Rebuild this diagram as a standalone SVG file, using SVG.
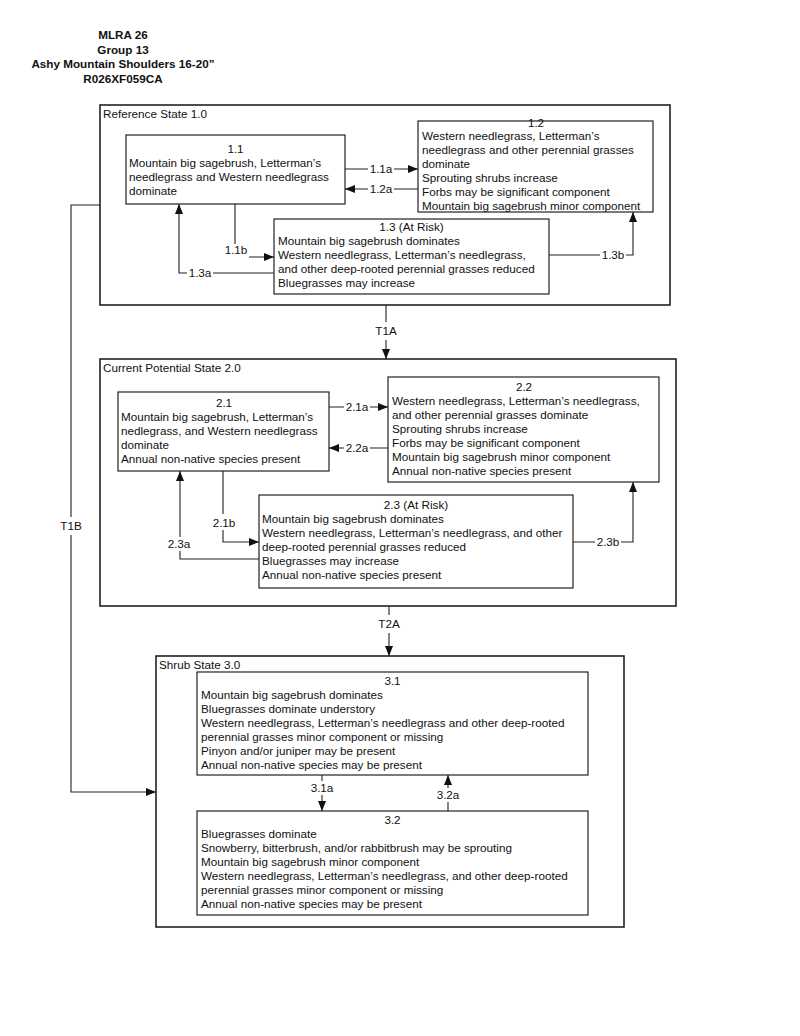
<svg xmlns="http://www.w3.org/2000/svg" width="800" height="1036" viewBox="0 0 800 1036">
<style>
text{font-family:"Liberation Sans",Arial,sans-serif;font-size:11.7px;fill:#111}
.hd{font-weight:bold;text-anchor:middle}
.c{text-anchor:middle}
.state{fill:none;stroke:#222;stroke-width:1.6}
.box{fill:#fff;stroke:#222;stroke-width:1.2}
.con{fill:none;stroke:#222;stroke-width:1.1}
.bg{fill:#fff;stroke:none}
.lbl{text-anchor:middle}
</style>
<defs>
<marker id="ah" markerUnits="userSpaceOnUse" markerWidth="10" markerHeight="8" refX="10" refY="4" orient="auto">
<path d="M0,0 L10,4 L0,8 z" fill="#111"/>
</marker>
</defs>
<rect width="800" height="1036" fill="#fff"/>
<g id="header">
<text class="hd" x="123" y="39">MLRA 26</text>
<text class="hd" x="123" y="54">Group 13</text>
<text class="hd" x="123" y="68">Ashy Mountain Shoulders 16-20”</text>
<text class="hd" x="123" y="83">R026XF059CA</text>
</g>
<g id="state1">
<rect class="state" x="100" y="105" width="570" height="200"/>
<text x="103" y="118">Reference State 1.0</text>
</g>
<g id="state2">
<rect class="state" x="100" y="359" width="576" height="247"/>
<text x="103" y="372">Current Potential State 2.0</text>
</g>
<g id="state3">
<rect class="state" x="156" y="656" width="468" height="271"/>
<text x="159" y="669">Shrub State 3.0</text>
</g>
<g id="connectors">
<path class="con" d="M345,169 H418" marker-end="url(#ah)"/>
<path class="con" d="M418,189 H345" marker-end="url(#ah)"/>
<path class="con" d="M235,204 V257 H274" marker-end="url(#ah)"/>
<path class="con" d="M274,273 H179 V204" marker-end="url(#ah)"/>
<path class="con" d="M549,255 H633 V212" marker-end="url(#ah)"/>
<path class="con" d="M386,305 V359" marker-end="url(#ah)"/>
<path class="con" d="M329,407 H388" marker-end="url(#ah)"/>
<path class="con" d="M388,448 H329" marker-end="url(#ah)"/>
<path class="con" d="M223,471 V542 H259" marker-end="url(#ah)"/>
<path class="con" d="M259,559 H180 V471" marker-end="url(#ah)"/>
<path class="con" d="M573,542 H633 V482" marker-end="url(#ah)"/>
<path class="con" d="M389,606 V656" marker-end="url(#ah)"/>
<path class="con" d="M100,205 H71 V792 H156" marker-end="url(#ah)"/>
<path class="con" d="M322,775 V811" marker-end="url(#ah)"/>
<path class="con" d="M448,811 V775" marker-end="url(#ah)"/>
<rect class="bg" x="368" y="163" width="26" height="12"/>
<rect class="bg" x="368" y="183" width="26" height="12"/>
<rect class="bg" x="223" y="244" width="26" height="14"/>
<rect class="bg" x="187" y="267" width="26" height="12"/>
<rect class="bg" x="600" y="249" width="26" height="12"/>
<rect class="bg" x="374" y="322" width="24" height="18"/>
<rect class="bg" x="344" y="401" width="26" height="12"/>
<rect class="bg" x="344" y="442" width="26" height="12"/>
<rect class="bg" x="211" y="514" width="26" height="16"/>
<rect class="bg" x="166" y="537" width="26" height="14"/>
<rect class="bg" x="595" y="536" width="26" height="12"/>
<rect class="bg" x="377" y="615" width="24" height="18"/>
<rect class="bg" x="59" y="517" width="24" height="18"/>
<rect class="bg" x="309" y="781" width="26" height="14"/>
<rect class="bg" x="435" y="788" width="26" height="14"/>
<text class="lbl" x="381" y="173">1.1a</text>
<text class="lbl" x="381" y="193">1.2a</text>
<text class="lbl" x="236" y="254">1.1b</text>
<text class="lbl" x="200" y="277">1.3a</text>
<text class="lbl" x="613" y="259">1.3b</text>
<text class="lbl" x="386" y="335">T1A</text>
<text class="lbl" x="357" y="411">2.1a</text>
<text class="lbl" x="357" y="452">2.2a</text>
<text class="lbl" x="224" y="527">2.1b</text>
<text class="lbl" x="179" y="548">2.3a</text>
<text class="lbl" x="608" y="546">2.3b</text>
<text class="lbl" x="389" y="628">T2A</text>
<text class="lbl" x="71" y="530">T1B</text>
<text class="lbl" x="322" y="792">3.1a</text>
<text class="lbl" x="448" y="799">3.2a</text>
</g>
<g id="n11">
<rect class="box" x="126" y="135" width="219" height="69"/>
<text class="c" x="235.5" y="153">1.1</text>
<text x="129" y="167">Mountain big sagebrush, Letterman’s</text>
<text x="129" y="181">needlegrass and Western needlegrass</text>
<text x="129" y="195">dominate</text>
</g>
<g id="n12">
<rect class="box" x="418" y="121" width="235" height="91"/>
<text class="c" x="536" y="127">1.2</text>
<text x="422" y="140">Western needlegrass, Letterman’s</text>
<text x="422" y="154">needlegrass and other perennial grasses</text>
<text x="422" y="168">dominate</text>
<text x="422" y="182">Sprouting shrubs increase</text>
<text x="422" y="196">Forbs may be significant component</text>
<text x="422" y="210">Mountain big sagebrush minor component</text>
</g>
<g id="n13">
<rect class="box" x="274" y="219" width="275" height="75"/>
<text class="c" x="411.5" y="231">1.3 (At Risk)</text>
<text x="278" y="245">Mountain big sagebrush dominates</text>
<text x="278" y="259">Western needlegrass, Letterman’s needlegrass,</text>
<text x="278" y="273">and other deep-rooted perennial grasses reduced</text>
<text x="278" y="287">Bluegrasses may increase</text>
</g>
<g id="n21">
<rect class="box" x="118" y="392" width="211" height="79"/>
<text class="c" x="224" y="407">2.1</text>
<text x="121" y="421">Mountain big sagebrush, Letterman’s</text>
<text x="121" y="435">nedlegrass, and Western needlegrass</text>
<text x="121" y="449">dominate</text>
<text x="121" y="463">Annual non-native species present</text>
</g>
<g id="n22">
<rect class="box" x="388" y="377" width="271" height="105"/>
<text class="c" x="524" y="391">2.2</text>
<text x="392" y="405">Western needlegrass, Letterman’s needlegrass,</text>
<text x="392" y="419">and other perennial grasses dominate</text>
<text x="392" y="433">Sprouting shrubs increase</text>
<text x="392" y="447">Forbs may be significant component</text>
<text x="392" y="461">Mountain big sagebrush minor component</text>
<text x="392" y="475">Annual non-native species present</text>
</g>
<g id="n23">
<rect class="box" x="259" y="495" width="314" height="93"/>
<text class="c" x="416" y="509">2.3 (At Risk)</text>
<text x="262" y="523">Mountain big sagebrush dominates</text>
<text x="262" y="537">Western needlegrass, Letterman’s needlegrass, and other</text>
<text x="262" y="551">deep-rooted perennial grasses reduced</text>
<text x="262" y="565">Bluegrasses may increase</text>
<text x="262" y="579">Annual non-native species present</text>
</g>
<g id="n31">
<rect class="box" x="197" y="672" width="391" height="103"/>
<text class="c" x="392.5" y="685">3.1</text>
<text x="201" y="699">Mountain big sagebrush dominates</text>
<text x="201" y="713">Bluegrasses dominate understory</text>
<text x="201" y="727">Western needlegrass, Letterman’s needlegrass and other deep-rooted</text>
<text x="201" y="741">perennial grasses minor component or missing</text>
<text x="201" y="755">Pinyon and/or juniper may be present</text>
<text x="201" y="769">Annual non-native species may be present</text>
</g>
<g id="n32">
<rect class="box" x="197" y="811" width="391" height="104"/>
<text class="c" x="392.5" y="824">3.2</text>
<text x="201" y="838">Bluegrasses dominate</text>
<text x="201" y="852">Snowberry, bitterbrush, and/or rabbitbrush may be sprouting</text>
<text x="201" y="866">Mountain big sagebrush minor component</text>
<text x="201" y="880">Western needlegrass, Letterman’s needlegrass, and other deep-rooted</text>
<text x="201" y="894">perennial grasses minor component or missing</text>
<text x="201" y="908">Annual non-native species may be present</text>
</g>
</svg>
